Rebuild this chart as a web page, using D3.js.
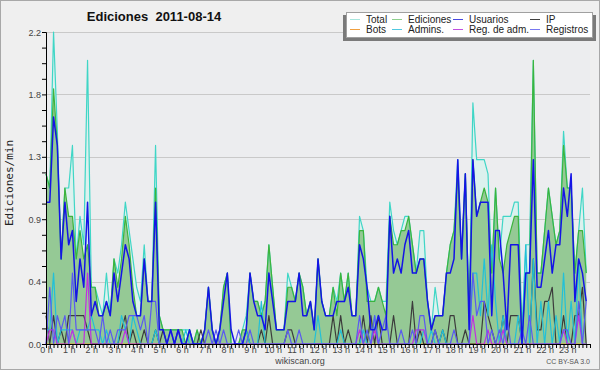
<!DOCTYPE html>
<html>
<head>
<meta charset="utf-8">
<script src="https://cdn.jsdelivr.net/npm/d3@7"></script>
<style>
body { margin: 0; background: #efefef; }
svg { display: block; }
</style>
</head>
<body>
<svg id="chart" width="600" height="370"></svg>
<script>
// edits per minute, one value every 10 minutes (144 per day)
var total = [
  1.2, 1.1, 2.2, 1.5, 0.6, 1.1, 1.1, 1.4, 0.6, 0.9, 0.7, 2.0,
  0.4, 0.4, 0.3, 0.2, 0.5, 0.2, 0.6, 0.5, 0.7, 1.0, 0.8, 0.6,
  0.4, 0.3, 0.7, 0.3, 0.3, 1.4, 0.2, 0.1, 0.1, 0.1, 0.1, 0.1,
  0.1, 0.1, 0.1, 0, 0.1, 0, 0.1, 0.4, 0.1, 0, 0.1, 0.4,
  0.5, 0, 0, 0, 0.1, 0.2, 0.5, 0.3, 0.3, 0.2, 0.3, 0.7,
  0.4, 0.1, 0.1, 0.1, 0.5, 0.4, 0.3, 0.5, 0.4, 0.2, 0.3, 0.1,
  0.6, 0.3, 0.2, 0.2, 0.4, 0.3, 0.5, 0.3, 0.5, 0.2, 0.2, 0.9,
  0.8, 0.4, 0.3, 0.3, 0.4, 0.3, 0.3, 1.0, 0.8, 0.7, 0.8, 0.9,
  0.9, 0.7, 0.5, 0.8, 0.8, 0.3, 0.1, 0.4, 0.2, 0.2, 0.5, 0.7,
  0.8, 1.3, 0.6, 1.2, 0.2, 1.7, 1.3, 1.3, 1.3, 1.2, 0.5, 1.1,
  0.6, 0.9, 0.9, 0.9, 1.0, 1.0, 0.1, 0.7, 0.7, 2.0, 0.5, 0.5,
  0.8, 1.1, 0.9, 0.7, 0.8, 1.5, 1.1, 1.1, 0.5, 0.8, 1.1, 0.5
];
var ediciones = [
  1.2, 1.1, 1.8, 1.4, 0.6, 1.1, 0.9, 0.9, 0.6, 0.8, 0.6, 0.7,
  0.4, 0.4, 0.2, 0.2, 0.3, 0.2, 0.6, 0.4, 0.6, 0.9, 0.7, 0.4,
  0.2, 0.2, 0.6, 0.3, 0.3, 1.1, 0.2, 0.1, 0.1, 0.1, 0.1, 0.1,
  0.1, 0, 0.1, 0, 0.1, 0, 0.1, 0.4, 0.1, 0, 0.1, 0.4,
  0.5, 0, 0, 0, 0.1, 0.1, 0.5, 0.3, 0.3, 0.2, 0.3, 0.7,
  0.4, 0.1, 0.1, 0.1, 0.4, 0.4, 0.3, 0.5, 0.4, 0.2, 0.3, 0.1,
  0.6, 0.3, 0.2, 0.2, 0.4, 0.2, 0.5, 0.3, 0.5, 0.2, 0.2, 0.8,
  0.8, 0.3, 0.3, 0.3, 0.4, 0.3, 0.2, 0.9, 0.7, 0.7, 0.8, 0.8,
  0.9, 0.7, 0.5, 0.6, 0.6, 0.3, 0.1, 0.2, 0.2, 0.2, 0.5, 0.7,
  0.8, 1.2, 0.6, 1.2, 0.2, 1.3, 0.9, 1.0, 1.1, 1.0, 0.5, 1.1,
  0.6, 0.5, 0.7, 0.8, 0.9, 0.9, 0, 0.5, 0.5, 2.0, 0.5, 0.5,
  0.8, 1.1, 0.9, 0.7, 0.8, 1.4, 1.1, 1.1, 0.5, 0.8, 0.8, 0.5
];
var usuarios = [
  1.0, 1.0, 1.6, 1.4, 0.6, 1.0, 0.7, 0.8, 0.3, 0.6, 0.4, 1.0,
  0.2, 0.3, 0.2, 0.2, 0.3, 0.2, 0.5, 0.3, 0.5, 0.7, 0.6, 0.3,
  0.2, 0.2, 0.6, 0.3, 0.3, 1.0, 0.1, 0.1, 0, 0.1, 0, 0.1,
  0, 0, 0.1, 0, 0, 0, 0.1, 0.4, 0.1, 0, 0.1, 0.3,
  0.5, 0.1, 0, 0, 0, 0.1, 0.5, 0.3, 0.2, 0.2, 0.1, 0.5,
  0.3, 0.1, 0.1, 0.1, 0.3, 0.3, 0.3, 0.5, 0.2, 0.2, 0.3, 0.1,
  0.6, 0.3, 0.2, 0.2, 0.2, 0.3, 0.3, 0.3, 0.4, 0.2, 0.2, 0.7,
  0.6, 0.4, 0.1, 0.1, 0.2, 0.1, 0.1, 0.9, 0.5, 0.6, 0.5, 0.7,
  0.8, 0.5, 0.5, 0.6, 0.6, 0.3, 0.1, 0.2, 0.2, 0.2, 0.5, 0.5,
  0.6, 1.3, 0.6, 1.2, 0.1, 1.3, 0.9, 1.0, 1.0, 1.0, 0.2, 0.8,
  0.8, 0.5, 0.1, 0.7, 0.7, 0.7, 0, 0.5, 0.5, 1.3, 0.4, 0.4,
  0.6, 0.8, 0.5, 0.7, 0.7, 1.1, 0.9, 1.2, 0.3, 0.6, 0.5, 0.3
];
var ip = [
  0.2, 0, 0.2, 0, 0.1, 0, 0.2, 0.2, 0.2, 0.2, 0.2, 0.1,
  0, 0, 0, 0, 0, 0, 0, 0, 0.1, 0.2, 0, 0.1,
  0, 0, 0.1, 0, 0, 0.1, 0, 0.1, 0, 0, 0, 0.1,
  0, 0, 0, 0, 0, 0.1, 0, 0, 0, 0, 0, 0,
  0, 0, 0, 0, 0, 0.1, 0, 0, 0, 0.1, 0, 0.2,
  0, 0, 0, 0, 0.1, 0.1, 0, 0, 0, 0, 0, 0,
  0, 0, 0, 0, 0.2, 0, 0.2, 0, 0.1, 0, 0, 0,
  0.2, 0, 0.2, 0, 0.2, 0, 0, 0, 0.2, 0, 0, 0,
  0, 0.3, 0, 0.1, 0, 0, 0, 0.1, 0, 0.1, 0, 0.2,
  0.2, 0, 0, 0.1, 0, 0, 0, 0, 0.3, 0.2, 0.1, 0,
  0, 0.2, 0, 0.2, 0.2, 0.2, 0, 0, 0, 0.6, 0.1, 0.1,
  0.3, 0.3, 0.4, 0, 0, 0.2, 0, 0, 0.2, 0.2, 0.4, 0
];
var bots = [
  0, 0, 0, 0, 0, 0, 0, 0, 0, 0, 0, 0,
  0, 0, 0, 0, 0, 0, 0, 0, 0, 0, 0, 0,
  0, 0, 0, 0, 0, 0, 0, 0, 0, 0, 0, 0,
  0, 0, 0, 0, 0, 0, 0, 0, 0, 0, 0, 0,
  0, 0, 0, 0, 0, 0, 0, 0, 0, 0, 0, 0,
  0, 0, 0, 0, 0, 0, 0, 0, 0, 0, 0, 0,
  0, 0, 0, 0, 0, 0, 0, 0, 0, 0, 0, 0,
  0, 0, 0, 0, 0, 0, 0, 0, 0, 0, 0, 0,
  0, 0, 0, 0, 0, 0, 0, 0, 0, 0, 0, 0,
  0, 0, 0, 0, 0, 0, 0, 0, 0, 0, 0, 0,
  0, 0, 0, 0, 0, 0, 0, 0, 0, 0, 0, 0,
  0, 0, 0, 0, 0, 0, 0, 0, 0, 0, 0, 0
];
var admins = [
  0.1, 0.1, 0.5, 0, 0.1, 0.1, 0.1, 0.1, 0, 0.1, 0.1, 0.1,
  0.2, 0.1, 0.1, 0, 0.1, 0, 0, 0, 0.2, 0.1, 0, 0.2,
  0.1, 0, 0, 0, 0, 0.1, 0, 0, 0, 0, 0, 0,
  0, 0.1, 0, 0, 0, 0, 0, 0, 0, 0, 0, 0,
  0, 0, 0, 0, 0, 0.1, 0, 0, 0, 0.3, 0, 0,
  0, 0, 0, 0, 0, 0, 0, 0, 0, 0, 0, 0,
  0.2, 0, 0, 0, 0, 0, 0.1, 0, 0, 0, 0, 0,
  0.1, 0, 0, 0.2, 0, 0, 0, 0, 0, 0, 0, 0,
  0, 0, 0, 0, 0.1, 0, 0.1, 0, 0, 0.1, 0, 0,
  0, 0, 0, 0, 0, 0.5, 0.5, 0.2, 0.6, 0.2, 0.7, 0.3,
  0, 0.2, 0, 0, 0, 0.2, 0, 0.7, 0, 0.6, 0, 0.3,
  0, 0.3, 0, 0.2, 0, 0.5, 0, 0.3, 0, 0.6, 0, 0
];
var regAdm = [
  0, 0.1, 0.1, 0, 0, 0, 0, 0.1, 0, 0, 0, 0.5,
  0, 0, 0, 0, 0, 0, 0, 0, 0, 0.1, 0, 0,
  0, 0, 0, 0, 0, 0, 0, 0, 0, 0, 0, 0,
  0, 0, 0, 0, 0, 0, 0, 0, 0, 0, 0, 0,
  0, 0, 0, 0, 0, 0, 0, 0, 0, 0, 0, 0,
  0, 0, 0, 0, 0, 0, 0, 0, 0, 0, 0, 0,
  0, 0, 0, 0, 0, 0, 0, 0, 0, 0, 0, 0.1,
  0, 0, 0, 0.1, 0, 0, 0, 0, 0, 0, 0, 0,
  0, 0, 0.1, 0.1, 0.1, 0, 0, 0, 0, 0, 0, 0,
  0, 0, 0, 0, 0, 0.2, 0, 0, 0, 0.1, 0, 0,
  0, 0.1, 0, 0, 0, 0, 0, 0, 0, 0, 0, 0,
  0, 0, 0, 0, 0, 0.1, 0, 0, 0, 0.2, 0, 0
];
var registros = [
  0, 0.4, 0, 0.2, 0.1, 0.2, 0, 0.5, 0.1, 0.1, 0.1, 0.1,
  0.1, 0.1, 0, 0.2, 0, 0.1, 0, 0.1, 0.1, 0.1, 0.2, 0.2,
  0.2, 0.1, 0.2, 0, 0.3, 0.3, 0, 0, 0, 0.1, 0, 0.1,
  0, 0, 0, 0, 0, 0, 0, 0.1, 0, 0.1, 0, 0.1,
  0, 0, 0, 0.1, 0, 0, 0.1, 0, 0, 0, 0, 0,
  0, 0, 0, 0, 0.1, 0, 0, 0.1, 0, 0, 0, 0,
  0, 0, 0, 0, 0, 0, 0, 0, 0, 0, 0, 0.2,
  0, 0.1, 0, 0.2, 0, 0.1, 0.2, 0, 0, 0, 0.1, 0,
  0, 0.1, 0, 0.2, 0.2, 0, 0, 0.1, 0, 0, 0, 0,
  0.1, 0, 0, 0, 0, 0.5, 0.2, 0.3, 0.3, 0, 0.1, 0,
  0.1, 0, 0.2, 0, 0, 0, 0.1, 0, 0.2, 0, 0, 0,
  0, 0, 0, 0, 0, 0.1, 0.1, 0, 0, 0.3, 0, 0.3
];

var seriesNames = ["Total", "Ediciones", "Usuarios", "IP", "Bots", "Admins.", "Reg. de adm.", "Registros"];
var seriesColors = ["#3fd6c6", "#3cb43c", "#1414e6", "#3c3c3c", "#f0a030", "#22c0d8", "#c030e0", "#5a5af0"];
var legendColors = ["#a8e6de", "#8ed08e", "#4848e0", "#404040", "#f0a040", "#50c8e0", "#c050e0", "#7878f0"];
var hourLabels = ["0 h", "1 h", "2 h", "3 h", "4 h", "5 h", "6 h", "7 h", "8 h", "9 h", "10 h", "11 h",
                  "12 h", "13 h", "14 h", "15 h", "16 h", "17 h", "18 h", "19 h", "20 h", "21 h", "22 h", "23 h"];
var yTickLabels = ["0.0", "0.4", "0.9", "1.3", "1.8", "2.2"];
var yMax = 2.2;
var titleText = "Ediciones  2011-08-14";

var svg = d3.select("#chart");
var plotL = 46, plotR = 590, plotT = 32, plotB = 344;

var x = d3.scaleLinear().domain([0, 24]).range([plotL, plotR]);
var y = d3.scaleLinear().domain([0, yMax]).range([plotB, plotT]);

// background + frame
svg.append("rect").attr("x", 0.5).attr("y", 0.5).attr("width", 599).attr("height", 369)
    .attr("fill", "#efefef").attr("stroke", "#a8a8a8");
svg.append("rect").attr("x", plotL).attr("y", plotT).attr("width", plotR - plotL).attr("height", plotB - plotT)
    .attr("fill", "#ecedef");

// gridlines at labelled ticks
var gridVals = yTickLabels.map(function(d, i) { return yMax * i / (yTickLabels.length - 1); });
svg.append("g").selectAll("line").data(gridVals).join("line")
    .attr("x1", plotL).attr("x2", plotR)
    .attr("y1", function(d) { return Math.round(y(d)) + 0.5; })
    .attr("y2", function(d) { return Math.round(y(d)) + 0.5; })
    .attr("stroke", "#c9c9c9").attr("stroke-width", 1);

var t = function(d, i) { return x(i / 6); };

var area = d3.area().x(t).y0(plotB).y1(function(d) { return y(d); });
var line = d3.line().x(t).y(function(d) { return y(d); });

svg.append("path").datum(total).attr("d", area).attr("fill", "#dcf1ee");
svg.append("path").datum(ediciones).attr("d", area).attr("fill", "#95c995");

var allSeries = [total, ediciones, usuarios, ip, bots, admins, regAdm, registros];
var drawOrder = [0, 1, 4, 3, 5, 6, 7, 2];
drawOrder.forEach(function(k) {
    svg.append("path").datum(allSeries[k]).attr("d", line)
        .attr("fill", "none")
        .attr("stroke", seriesColors[k])
        .attr("stroke-width", k == 2 ? 1.5 : 1.2)
        .attr("stroke-linejoin", "round");
});

// y axis
var yTicks = d3.range(0, 21).map(function(k) { return yMax * k / 20; });
var yAxis = d3.axisLeft(y).tickValues(yTicks).tickSize(4)
    .tickFormat(function(d, i) { return i % 4 == 0 ? yTickLabels[i / 4] : ""; });
var gy = svg.append("g").attr("transform", "translate(" + plotL + ",0)").call(yAxis);
gy.select(".domain").attr("stroke", "#000");
gy.selectAll(".tick line").attr("stroke", "#000");
gy.selectAll("text").attr("font-family", "Liberation Sans, sans-serif").attr("font-size", 9)
    .attr("fill", "#444").attr("x", -5).attr("dy", "0.35em");

// x axis
var xTicks = d3.range(0, 145).map(function(k) { return k / 6; });
var xAxis = d3.axisBottom(x).tickValues(xTicks).tickSize(4)
    .tickFormat(function(d, i) { return i % 6 == 0 && i < 144 ? hourLabels[i / 6] : ""; });
var gx = svg.append("g").attr("transform", "translate(0," + plotB + ")").call(xAxis);
gx.select(".domain").attr("stroke", "#000");
gx.selectAll(".tick line").attr("stroke", "#000");
gx.selectAll("text").attr("font-family", "Liberation Sans, sans-serif").attr("font-size", 9)
    .attr("fill", "#444").attr("y", 3).attr("dy", "0.71em");

// titles
svg.append("text").attr("x", 154).attr("y", 21).attr("text-anchor", "middle")
    .attr("font-family", "Liberation Sans, sans-serif").attr("font-weight", "bold")
    .attr("font-size", 13).attr("fill", "#111").style("white-space", "pre")
    .text(titleText);

svg.append("text").attr("transform", "translate(13,183) rotate(-90)").attr("text-anchor", "middle")
    .attr("font-family", "DejaVu Sans Mono, monospace").attr("font-size", 11).attr("fill", "#222")
    .text("Ediciones/min");

svg.append("text").attr("x", 300).attr("y", 364).attr("text-anchor", "middle")
    .attr("font-family", "Liberation Sans, sans-serif").attr("font-size", 9).attr("fill", "#444")
    .text("wikiscan.org");
svg.append("text").attr("x", 590).attr("y", 364).attr("text-anchor", "end")
    .attr("font-family", "Liberation Sans, sans-serif").attr("font-size", 7).attr("fill", "#555")
    .text("CC BY-SA 3.0");

// legend
var lg = svg.append("g");
lg.append("rect").attr("x", 343).attr("y", 15).attr("width", 253).attr("height", 26).attr("fill", "#7a7a7a");
lg.append("rect").attr("x", 346.5).attr("y", 12.5).attr("width", 246).attr("height", 25)
    .attr("fill", "#fff").attr("stroke", "#a0a0a0");
var colX = [350, 392, 453, 530];
var rowY = [19.5, 29.5];
seriesNames.forEach(function(name, i) {
    var cx = colX[i % 4], cy = rowY[Math.floor(i / 4)];
    lg.append("line").attr("x1", cx).attr("x2", cx + 10).attr("y1", cy).attr("y2", cy)
        .attr("stroke", legendColors[i]).attr("stroke-width", 1);
    lg.append("text").attr("x", cx + 16).attr("y", cy + 3.5)
        .attr("font-family", "Liberation Sans, sans-serif").attr("font-size", 10).attr("fill", "#222")
        .text(name);
});
</script>
</body>
</html>
